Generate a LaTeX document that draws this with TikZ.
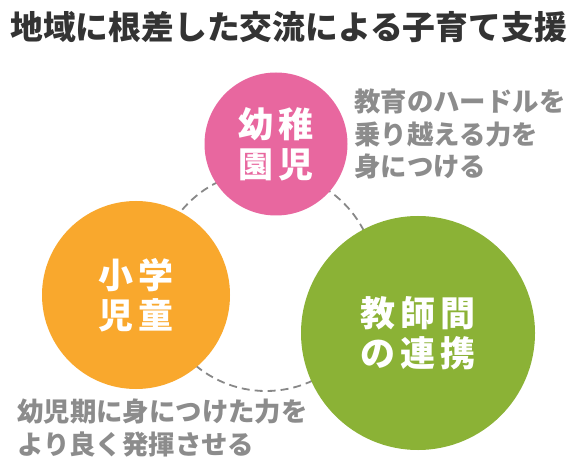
\documentclass[tikz,border=0pt]{standalone}
\usepackage{fontspec}
\newfontfamily\jpfont{Noto Sans CJK JP}
\newfontfamily\jpcirc[LetterSpace=14]{Noto Sans CJK JP}
\definecolor{pinkc}{HTML}{E8679F}
\definecolor{orangec}{HTML}{F9A82D}
\definecolor{greenc}{HTML}{8BB236}
\definecolor{graytxt}{HTML}{8C8C8C}
\definecolor{dashc}{HTML}{888888}
\definecolor{titlec}{HTML}{333333}
\tikzset{
  bubble/.style={circle, inner sep=0pt, text=white, align=center,
    font=\jpcirc\bfseries\fontsize{35}{40}\selectfont},
  note/.style={inner sep=0pt, text=graytxt, align=left, anchor=west,
    font=\jpfont\bfseries\fontsize{26.4}{32.5}\selectfont},
  ring/.style={draw=dashc, line width=1.8pt, dash pattern=on 8pt off 5pt}
}
\begin{document}
\begin{tikzpicture}[x=1pt, y=-1pt]
\useasboundingbox (0,0) rectangle (575,470);
\fill[white] (0,0) rectangle (575,470);
\node[inner sep=0pt, anchor=west, text=titlec, font=\jpfont\bfseries\fontsize{32.8}{36}\selectfont] (title) at (10,27) {地域に根差した交流による子育て支援};
\draw[ring] (266,281) circle[radius=110pt];
\node[bubble, fill=pinkc, minimum size=143pt] (pink) at (276,144) {幼稚\\園児};
\node[bubble, fill=orangec, minimum size=188pt] (orange) at (136,295) {小学\\児童};
\node[bubble, fill=greenc, minimum size=234pt] (green) at (418,333) {教師間\\の連携};
\node[note] (n1) at (354,134) {教育のハードルを\\乗り越える力を\\身につける};
\node[note] (n2) at (17,428) {幼児期に身につけた力を\\より良く発揮させる};
\end{tikzpicture}
\end{document}
